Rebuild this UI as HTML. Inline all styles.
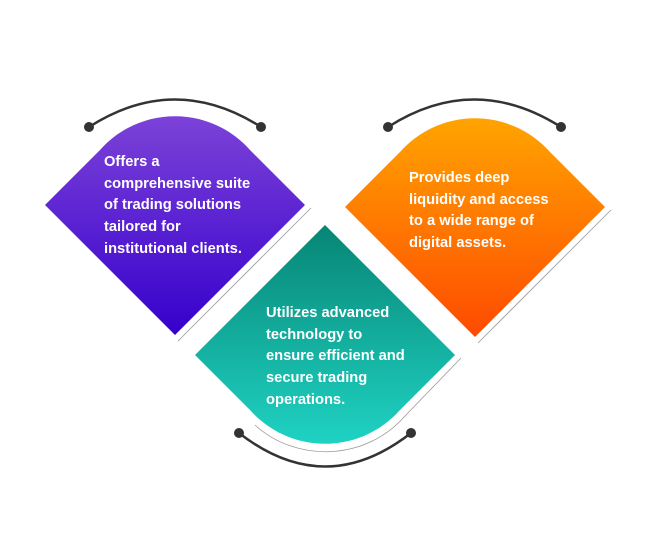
<!DOCTYPE html>
<html><head><style>
body{margin:0;background:#fff;width:650px;height:543px;overflow:hidden;position:relative;font-family:"Liberation Sans",sans-serif}
.t{position:absolute;color:#fff;font-weight:bold;font-size:14.7px;line-height:21.7px;white-space:nowrap}
</style></head><body>
<svg width="650" height="543" style="position:absolute;left:0;top:0">
<defs>
<linearGradient id="gp" x1="0" y1="0" x2="0" y2="1"><stop offset="0" stop-color="#7c42d8"/><stop offset="1" stop-color="#3600cc"/></linearGradient>
<linearGradient id="go" x1="0" y1="0" x2="0" y2="1"><stop offset="0" stop-color="#ffa400"/><stop offset="1" stop-color="#ff4a00"/></linearGradient>
<linearGradient id="gt" x1="0" y1="0" x2="0" y2="1"><stop offset="0" stop-color="#078574"/><stop offset="1" stop-color="#1fd2c3"/></linearGradient>
</defs>
<path d="M45,205 L100,150 C140,105 210,105 250,150 L305,205 L175,335 Z" fill="url(#gp)"/>
<path d="M345,207 L400,152 C440,107 510,107 550,152 L605,207 L475,337 Z" fill="url(#go)"/>
<path d="M325,225 L455,355 L400,410 C360,455 290,455 250,410 L195,355 Z" fill="url(#gt)"/>
<g stroke="#999" stroke-width="0.8" fill="none">
<path d="M178,341 L311,208"/>
<path d="M478,343 L611,210"/>
<path d="M461,358 L405,416 C365,462 295,462 255,425"/>
</g>
<g stroke="#333" stroke-width="2.5" fill="none">
<path d="M89,127 Q175,72 261,127"/>
<path d="M388,127 Q474,72 561,127"/>
<path d="M239,433 Q325,500 411,433"/>
</g>
<g fill="#333">
<circle cx="89" cy="127" r="5"/><circle cx="261" cy="127" r="5"/>
<circle cx="388" cy="127" r="5"/><circle cx="561" cy="127" r="5"/>
<circle cx="239" cy="433" r="5"/><circle cx="411" cy="433" r="5"/>
</g>
</svg>
<div class="t" style="left:104px;top:152px">Offers a<br>comprehensive suite<br>of trading solutions<br>tailored for<br>institutional clients.</div>
<div class="t" style="left:409px;top:168px">Provides deep<br>liquidity and access<br>to a wide range of<br>digital assets.</div>
<div class="t" style="left:266px;top:303px">Utilizes advanced<br>technology to<br>ensure efficient and<br>secure trading<br>operations.</div>
</body></html>
